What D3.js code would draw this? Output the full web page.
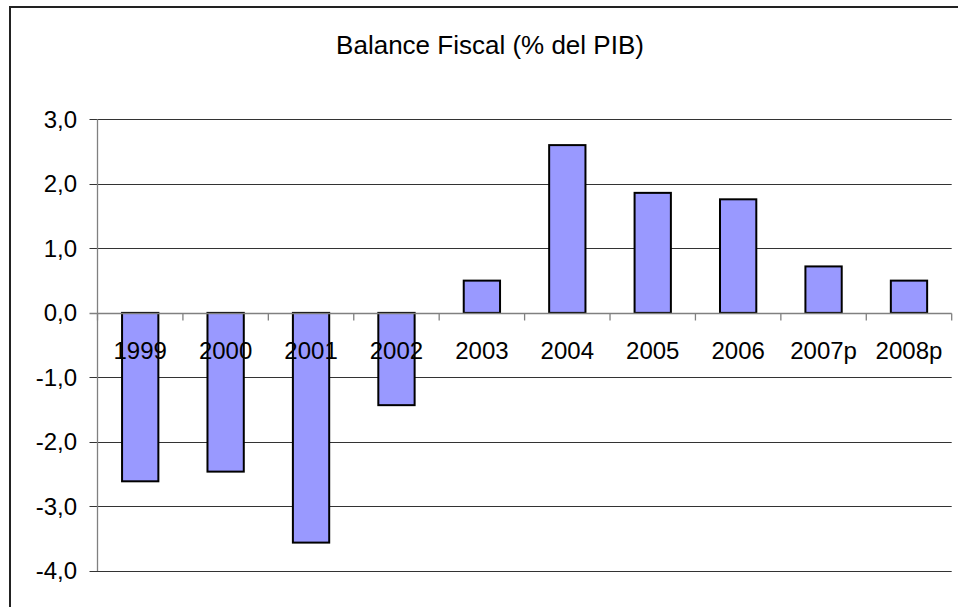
<!DOCTYPE html>
<html>
<head>
<meta charset="utf-8">
<script src="https://cdn.jsdelivr.net/npm/d3@7"></script>
<style>
  html, body { margin: 0; padding: 0; background: #fff; }
  svg { display: block; }
  text { font-family: "Liberation Sans", Arial, sans-serif; fill: #000; }
</style>
</head>
<body>
<svg id="chart" width="958" height="607"></svg>
<script>
const categories = ["1999", "2000", "2001", "2002", "2003", "2004", "2005", "2006", "2007p", "2008p"];
const values = [-2.61, -2.46, -3.56, -1.43, 0.5, 2.6, 1.86, 1.76, 0.72, 0.5];
const yTicks = [3, 2, 1, 0, -1, -2, -3, -4];
const title = "Balance Fiscal (% del PIB)";

(function () {
const svg = d3.select("#chart");
const pLeft = 97.5, pRight = 951.7, pTop = 119.3, pBottom = 571;

// chart border (right and bottom edges fall outside the picture)
svg.append("rect")
  .attr("x", 10).attr("y", 7)
  .attr("width", 960).attr("height", 620)
  .attr("fill", "none").attr("stroke", "#222").attr("stroke-width", 2);

svg.append("text")
  .attr("x", 490).attr("y", 53.5)
  .attr("text-anchor", "middle")
  .attr("font-size", 26)
  .text(title);

const x = d3.scaleBand().domain(categories).range([pLeft, pRight])
  .paddingInner(0.575).paddingOuter(0.2875);
const y = d3.scaleLinear().domain([-4, 3]).range([pBottom, pTop]);

const loc = d3.formatLocale({decimal: ",", thousands: ".", grouping: [3], currency: ["", ""], minus: "-"});
const fmt = loc.format(".1f");

// gridlines
const g = svg.append("g");
g.selectAll("line.grid").data(yTicks.filter(v => v !== 0)).enter().append("line")
  .attr("x1", pLeft - 8).attr("x2", pRight)
  .attr("y1", d => Math.round(y(d)) + 0.5).attr("y2", d => Math.round(y(d)) + 0.5)
  .attr("stroke", "#333").attr("stroke-width", 1);

// y tick labels
g.selectAll("text.ytick").data(yTicks).enter().append("text")
  .attr("x", 77).attr("y", d => y(d) + 8.3)
  .attr("text-anchor", "end")
  .attr("font-size", 24)
  .text(d => fmt(d));

// y axis line
svg.append("line")
  .attr("x1", pLeft).attr("x2", pLeft).attr("y1", pTop).attr("y2", pBottom)
  .attr("stroke", "#808080").attr("stroke-width", 1.3);

// bars
svg.selectAll("rect.bar").data(values).enter().append("rect")
  .attr("x", (d, i) => x(categories[i]))
  .attr("width", x.bandwidth())
  .attr("y", d => y(Math.max(0, d)))
  .attr("height", d => Math.abs(y(d) - y(0)))
  .attr("fill", "#9999FF")
  .attr("stroke", "#000").attr("stroke-width", 2);

// zero axis line
const y0 = Math.round(y(0)) + 0.5;
svg.append("line")
  .attr("x1", pLeft - 8).attr("x2", pRight).attr("y1", y0).attr("y2", y0)
  .attr("stroke", "#808080").attr("stroke-width", 1.3);

// x ticks at band boundaries
const step = x.step();
const bounds = d3.range(categories.length + 1).map(i => pLeft + i * step);
svg.selectAll("line.xtick").data(bounds).enter().append("line")
  .attr("x1", d => d).attr("x2", d => d)
  .attr("y1", y0).attr("y2", y0 + 7)
  .attr("stroke", "#808080").attr("stroke-width", 1.3);

// x labels
svg.selectAll("text.xlab").data(categories).enter().append("text")
  .attr("x", d => x(d) + x.bandwidth() / 2)
  .attr("y", 359.3)
  .attr("text-anchor", "middle")
  .attr("font-size", 24)
  .text(d => d);
})();
</script>
</body>
</html>
